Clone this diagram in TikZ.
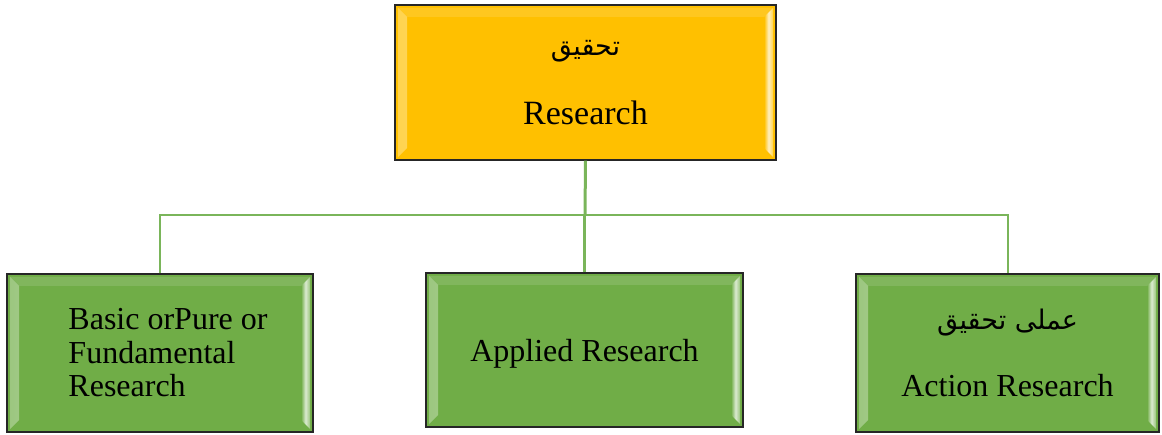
\documentclass[tikz,border=0pt]{standalone}
\usepackage{fontspec}
\setmainfont{Liberation Serif}
\newfontfamily\arabicfont[Script=Arabic]{DejaVu Sans}
\TeXXeTstate=1
\definecolor{gold}{HTML}{FFC000}
\definecolor{leaf}{HTML}{70AD47}
\definecolor{connc}{HTML}{7AB55A}
\newcommand{\urdu}[1]{{\arabicfont\fontsize{27}{30}\selectfont\beginR #1\endR}}
\tikzset{
  box/.style={draw=black!85, line width=1.4pt, rectangle, inner sep=0pt,
    font=\fontsize{32}{33.5}\selectfont, text=black,
    path picture={
      \shade[left color=#1!70!white, right color=#1, middle color=white!75!#1]
        ([shift={(3pt,-3pt)}]path picture bounding box.north west) --
        ([shift={(12pt,-12pt)}]path picture bounding box.north west) --
        ([shift={(12pt,12pt)}]path picture bounding box.south west) --
        ([shift={(3pt,3pt)}]path picture bounding box.south west) -- cycle;
      \shade[left color=#1, right color=#1!70!white, middle color=white!75!#1]
        ([shift={(-12pt,-12pt)}]path picture bounding box.north east) --
        ([shift={(-3pt,-3pt)}]path picture bounding box.north east) --
        ([shift={(-3pt,3pt)}]path picture bounding box.south east) --
        ([shift={(-12pt,12pt)}]path picture bounding box.south east) -- cycle;
      \fill[white, opacity=0.12]
        ([shift={(3pt,-3pt)}]path picture bounding box.north west) --
        ([shift={(-3pt,-3pt)}]path picture bounding box.north east) --
        ([shift={(-12pt,-12pt)}]path picture bounding box.north east) --
        ([shift={(12pt,-12pt)}]path picture bounding box.north west) -- cycle;
    }},
  topbox/.style={box=gold, fill=gold},
  leafbox/.style={box=leaf, fill=leaf},
  conn/.style={draw=connc, line width=2pt}
}
\begin{document}
\begin{tikzpicture}[x=1pt,y=1pt]
\useasboundingbox (0,0) rectangle (1162,434);
\node[topbox, minimum width=381pt, minimum height=155pt, align=center]
  (top) at (585.5,351.5) {\urdu{تحقیق}\\[36pt]{\fontsize{34}{36}\selectfont Research}};
\node[leafbox, minimum width=306pt, minimum height=158pt, align=left] (basic) at (160,81)
  {\hspace*{16pt}Basic orPure or\\\hspace*{16pt}Fundamental\\\hspace*{16pt}Research};
\node[leafbox, minimum width=317pt, minimum height=154pt, text depth=-4pt] (applied) at (584.5,84)
  {Applied Research};
\node[leafbox, minimum width=303pt, minimum height=158pt, align=center]
  (action) at (1007.5,81) {\urdu{عملی تحقیق}\\[34pt]Action Research};
\coordinate (bus) at (585,219);
\draw[conn, line width=3pt] (top.south) -- (bus);
\draw[conn] (basic.north) |- (bus) -| (action.north);
\draw[conn, line width=3pt] (applied.north) -- (applied.north |- bus);
\end{tikzpicture}
\end{document}
